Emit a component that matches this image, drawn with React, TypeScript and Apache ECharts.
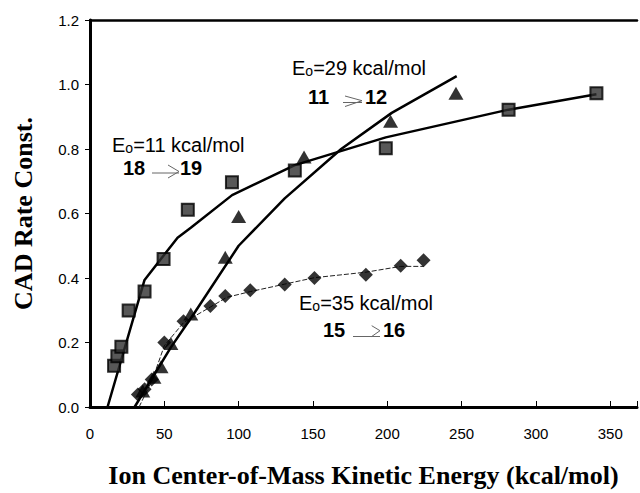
import React, { useEffect, useRef } from "react";
import * as echarts from "echarts";

// Ion series 18 -> 19 (E0 = 11 kcal/mol): squares
const squareX = [16.2, 18.4, 21.1, 26.0, 36.7, 49.5, 65.8, 95.5, 137.8, 199, 281.6, 340.7];
const squareY = [0.128, 0.157, 0.187, 0.299, 0.358, 0.459, 0.612, 0.697, 0.733, 0.802, 0.922, 0.973];
const squareFitX = [11.8, 36.7, 58.9, 67.8, 95.6, 137.8, 199, 281.6, 340.7];
const squareFitY = [0, 0.394, 0.525, 0.556, 0.657, 0.75, 0.836, 0.922, 0.97];

// Ion series 11 -> 12 (E0 = 29 kcal/mol): triangles
const triangleX = [35.5, 43, 47.8, 54.4, 67.8, 91, 100, 144, 202.2, 246.2];
const triangleY = [0.05, 0.092, 0.125, 0.197, 0.288, 0.464, 0.591, 0.775, 0.886, 0.973];
const triangleFitX = [30, 54.4, 70, 100, 131, 169, 203, 246.7];
const triangleFitY = [0, 0.185, 0.29, 0.5, 0.647, 0.8, 0.912, 1.026];

// Ion series 15 -> 16 (E0 = 35 kcal/mol): diamonds
const diamondX = [32.2, 36.7, 41.5, 50, 62.9, 81, 91, 107.8, 131, 151, 185.6, 209, 224.4];
const diamondY = [0.039, 0.055, 0.085, 0.2, 0.266, 0.313, 0.344, 0.362, 0.38, 0.4, 0.41, 0.438, 0.455];
const diamondFitX = [33, 42, 50, 63, 81, 92, 108, 131, 151, 185.6, 209, 224.4];
const diamondFitY = [0, 0.085, 0.19, 0.262, 0.31, 0.34, 0.358, 0.381, 0.401, 0.418, 0.436, 0.436];

const xTicks = [0, 50, 100, 150, 200, 250, 300, 350];
const yTicks = [0, 0.2, 0.4, 0.6, 0.8, 1.0, 1.2];

const xTitle = "Ion Center-of-Mass Kinetic Energy (kcal/mol)";
const yTitle = "CAD Rate Const.";

const annotations = [
  { e0: "=11 kcal/mol", from: "18", to: "19" },
  { e0: "=29 kcal/mol", from: "11", to: "12" },
  { e0: "=35 kcal/mol", from: "15", to: "16" },
];

const zip = (xs: number[], ys: number[]) => xs.map((x, i) => [x, ys[i]]);

const SANS = "'Liberation Sans', Arial, sans-serif";
const SERIF = "'Liberation Serif', 'Times New Roman', serif";

function e0Text(x: number, y: number, label: string) {
  return {
    type: "text",
    x,
    y,
    z: 100,
    style: {
      text: "{e|E}{s|o}{n|" + label + "}",
      verticalAlign: "middle",
      align: "left",
      rich: {
        e: { fontSize: 20, fontFamily: SANS, fill: "#000", color: "#000" },
        s: { fontSize: 14, fontFamily: SANS, fill: "#000", color: "#000", verticalAlign: "bottom" },
        n: { fontSize: 20, fontFamily: SANS, fill: "#000", color: "#000" },
      },
      fill: "#000",
    },
  };
}

function boldText(x: number, y: number, t: string) {
  return {
    type: "text",
    x,
    y,
    z: 100,
    style: {
      text: t,
      font: "bold 20px " + SANS,
      fill: "#000",
      align: "left",
      verticalAlign: "middle",
    },
  };
}

function arrow(x1: number, x2: number, yLine: number, yTip: number, armX: number, armTop: number, armBot: number) {
  return [
    {
      type: "line",
      z: 100,
      shape: { x1, y1: yLine, x2, y2: yLine },
      style: { stroke: "#666", lineWidth: 1 },
    },
    {
      type: "polyline",
      z: 100,
      shape: { points: [[armX, armTop], [x2, yTip], [armX, armBot]] },
      style: { stroke: "#666", lineWidth: 1, fill: null },
    },
  ];
}

export default function App() {
  const ref = useRef<HTMLDivElement>(null);

  useEffect(() => {
    if (!ref.current) return;
    const chart = echarts.init(ref.current, undefined, { renderer: "svg" });

    const axisMax = 368;

    const option: any = {
      animation: false,
      backgroundColor: "#fff",
      grid: { left: 90, right: 0, top: 20, bottom: 81, containLabel: false },
      xAxis: [
        {
          type: "value",
          min: 0,
          max: axisMax,
          interval: 50,
          position: "bottom",
          name: xTitle,
          nameLocation: "middle",
          nameGap: 55,
          nameTextStyle: { fontFamily: SERIF, fontWeight: "bold", fontSize: 26, color: "#000" },
          axisLine: { show: true, lineStyle: { color: "#000", width: 3 } },
          axisTick: { show: true, inside: true, length: 6, lineStyle: { color: "#000", width: 1 } },
          axisLabel: {
            margin: 19,
            fontFamily: SANS,
            fontSize: 15,
            color: "#000",
            formatter: (v: number) => (xTicks.indexOf(v) >= 0 ? String(v) : ""),
          },
          splitLine: { show: false },
        },
        {
          type: "value",
          min: 0,
          max: axisMax,
          interval: 50,
          position: "top",
          axisLine: { show: true, lineStyle: { color: "#000", width: 2.5 } },
          axisTick: { show: false },
          axisLabel: { show: false },
          splitLine: { show: false },
        },
      ],
      yAxis: {
        type: "value",
        min: 0,
        max: 1.2,
        interval: 0.2,
        name: yTitle,
        nameLocation: "middle",
        nameGap: 54,
        nameTextStyle: { fontFamily: SERIF, fontWeight: "bold", fontSize: 26, color: "#000" },
        axisLine: { show: true, lineStyle: { color: "#000", width: 3 } },
        axisTick: { show: true, inside: false, length: 5, lineStyle: { color: "#000", width: 1 } },
        axisLabel: {
          margin: 11,
          fontFamily: SANS,
          fontSize: 15,
          color: "#000",
          formatter: (v: number) => {
            const hit = yTicks.find((t) => Math.abs(t - v) < 1e-6);
            return hit === undefined ? "" : hit.toFixed(1);
          },
        },
        splitLine: { show: false },
      },
      series: [
        {
          name: "fit 18-19",
          type: "line",
          data: zip(squareFitX, squareFitY),
          showSymbol: false,
          symbol: "none",
          lineStyle: { color: "#000", width: 2.5 },
          z: 2,
        },
        {
          name: "fit 11-12",
          type: "line",
          data: zip(triangleFitX, triangleFitY),
          showSymbol: false,
          symbol: "none",
          lineStyle: { color: "#000", width: 2.5 },
          z: 2,
        },
        {
          name: "fit 15-16",
          type: "line",
          data: zip(diamondFitX, diamondFitY),
          showSymbol: false,
          symbol: "none",
          lineStyle: { color: "#222", width: 1, type: [5, 2] },
          z: 2,
        },
        {
          name: "18 -> 19",
          type: "scatter",
          data: zip(squareX, squareY),
          symbol: "rect",
          symbolSize: 12,
          itemStyle: { color: "#2e2e2e", borderColor: "#000", borderWidth: 2 },
          z: 5,
        },
        {
          name: "11 -> 12",
          type: "scatter",
          data: zip(triangleX, triangleY),
          symbol: "triangle",
          symbolSize: [15, 13],
          itemStyle: { color: "#000" },
          z: 5,
        },
        {
          name: "15 -> 16",
          type: "scatter",
          data: zip(diamondX, diamondY),
          symbol: "diamond",
          symbolSize: 14,
          itemStyle: { color: "#000" },
          z: 5,
        },
      ],
      graphic: [
        e0Text(112, 145, annotations[0].e0),
        boldText(123, 168, annotations[0].from),
        ...arrow(152, 179, 173, 171.5, 168, 165, 178),
        boldText(180, 168, annotations[0].to),

        e0Text(292, 68, annotations[1].e0),
        boldText(308, 96.5, annotations[1].from),
        ...arrow(343, 362, 102.5, 100.7, 345, 96, 106.5),
        boldText(365, 96.5, annotations[1].to),

        e0Text(299, 302.5, annotations[2].e0),
        boldText(323, 330, annotations[2].from),
        ...arrow(353, 380, 336.5, 330.7, 371.7, 325.7, 336.5),
        boldText(383, 330, annotations[2].to),
      ],
    };

    chart.setOption(option);
    return () => {
      chart.dispose();
    };
  }, []);

  return (
    <div
      ref={ref}
      style={{ position: "fixed", left: 0, top: 0, width: 640, height: 493, background: "#fff" }}
    />
  );
}
